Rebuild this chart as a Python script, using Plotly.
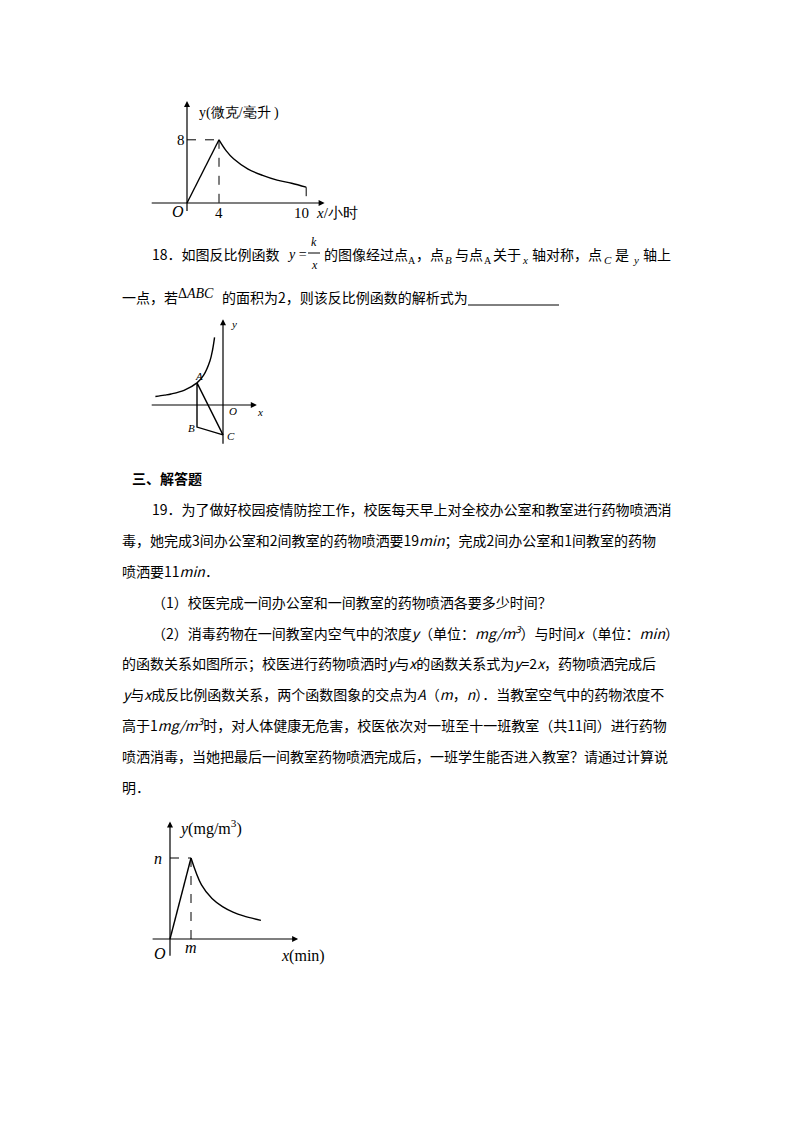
import plotly.graph_objects as go

W, H = 800, 1132
OFF = 8  # page margin of the html body
FONT = "Noto Sans CJK SC, Noto Sans, sans-serif"
SERIF = "Liberation Serif, DejaVu Serif, serif"

# graph 1: drug concentration (micrograms / ml) vs hours
g1_rise_x = [0, 4]
g1_rise_y = [0, 8]
g1_decay_x = [4, 4.5, 5, 6, 7, 8, 9, 10]
g1_decay_y = [8, 6.6, 5.6, 4.3, 3.5, 2.9, 2.5, 2.0]
g1_xticks = [4, 10]

# graph 2: inverse function with points A, B, C
g2_curve_x = [-5.2, -4.5, -4, -3, -2, -1.5, -1, -0.8, -0.65]
g2_curve_y = [0.65, 0.76, 0.85, 1.13, 1.7, 2.27, 3.4, 4.25, 5.2]
g2_A = (-2, 1.7)
g2_B = (-2, -1.7)
g2_C = (0, -2.3)

# graph 3: y(mg/m3) vs x(min)
g3_rise_x = [0, 1]
g3_rise_y = [0, 4]
g3_decay_x = [1, 1.5, 2, 2.5, 3, 3.5, 4.33]
g3_decay_y = [4, 2.67, 2.0, 1.6, 1.33, 1.14, 0.92]


def px(x):
    return (x - OFF) / W


def py(y):
    return 1 - (y - OFF) / H


def g1_map(x):
    # the sketch is not to scale: 0..4 is short, 4..10 is stretched
    return x if x <= 4 else 4 + (x - 4) * (10.9 / 6)


fig = go.Figure()
ann = []
shapes = []


def setup_axis(n, box, origin, scale):
    x0, y0, x1, y1 = box
    ox, oy = origin
    sx, sy = scale
    xr = [(x0 - ox) / sx, (x1 - ox) / sx]
    yr = [(oy - y1) / sy, (oy - y0) / sy]
    suf = "" if n == 1 else str(n)
    fig.update_layout({
        "xaxis" + suf: dict(domain=[px(x0), px(x1)], range=xr, visible=False, anchor="y" + suf),
        "yaxis" + suf: dict(domain=[py(y1), py(y0)], range=yr, visible=False, anchor="x" + suf),
    })
    return "x" + suf, "y" + suf


def line(xa, ya, xs, ys, dash="solid", width=1.4, shape="spline"):
    fig.add_trace(go.Scatter(x=xs, y=ys, mode="lines", xaxis=xa, yaxis=ya,
                             line=dict(color="black", width=width, dash=dash, shape=shape),
                             showlegend=False, hoverinfo="skip"))


def arrow(xa, ya, x0, y0, x1, y1):
    ann.append(dict(x=x1, y=y1, ax=x0, ay=y0, xref=xa, yref=ya, axref=xa, ayref=ya,
                    showarrow=True, arrowhead=2, arrowsize=1, arrowwidth=1.2,
                    arrowcolor="black", text=""))


def text(x, y, s, size=14, font=FONT, anchor="left", color="black"):
    ann.append(dict(x=px(x), y=py(y), xref="paper", yref="paper", text=s,
                    showarrow=False, xanchor=anchor, yanchor="middle",
                    font=dict(size=size, family=font, color=color)))


def dtext(xa, ya, x, y, s, size=15, font=SERIF, anchor="center"):
    ann.append(dict(x=x, y=y, xref=xa, yref=ya, text=s, showarrow=False,
                    xanchor=anchor, yanchor="middle",
                    font=dict(size=size, family=font, color="black")))


# ---- graph 1
xa, ya = setup_axis(1, (140, 90, 380, 225), (187, 203), (8, 7.9))
arrow(xa, ya, -4.6, 0, 17.2, 0)
arrow(xa, ya, 0, -1.2, 0, 12.9)
line(xa, ya, [g1_map(v) for v in g1_rise_x], g1_rise_y, shape="linear")
line(xa, ya, [g1_map(v) for v in g1_decay_x], g1_decay_y)
line(xa, ya, [0, g1_map(4)], [8, 8], dash="dash", width=1)
line(xa, ya, [g1_map(4), g1_map(4)], [8, 0], dash="dash", width=1)
line(xa, ya, [g1_map(10), g1_map(10)], [g1_decay_y[-1], 0], dash="dash", width=1)
text(197, 113, "y(微克/毫升 )", size=14, font=SERIF)
text(175, 140, "8", size=15, font=SERIF)
text(170, 212, "<i>O</i>", size=16, font=SERIF)
for t in g1_xticks:
    dtext(xa, ya, g1_map(t) - (0.6 if t == 10 else 0), -1.3, str(t))
text(314, 213, "<i>x</i>/小时", size=15, font=SERIF)

# ---- graph 2
xa, ya = setup_axis(2, (140, 315, 275, 450), (223, 405), (13, 13))
arrow(xa, ya, -5.6, 0, 2.6, 0)
arrow(xa, ya, 0, -3.1, 0, 6.6)
line(xa, ya, g2_curve_x, g2_curve_y)
line(xa, ya, [g2_A[0], g2_B[0], g2_C[0], g2_A[0]], [g2_A[1], g2_B[1], g2_C[1], g2_A[1]],
     shape="linear")
text(229, 324, "<i>y</i>", size=11, font=SERIF)
text(193, 376, "<i>A</i>", size=11, font=SERIF)
text(227, 411, "<i>O</i>", size=11, font=SERIF)
text(255, 412, "<i>x</i>", size=11, font=SERIF)
text(186, 428, "<i>B</i>", size=11, font=SERIF)
text(225, 436, "<i>C</i>", size=11, font=SERIF)

# ---- graph 3
xa, ya = setup_axis(3, (145, 815, 310, 960), (170, 939), (21, 20.25))
arrow(xa, ya, -0.9, 0, 6.1, 0)
arrow(xa, ya, 0, -0.9, 0, 5.8)
line(xa, ya, g3_rise_x, g3_rise_y, shape="linear")
line(xa, ya, g3_decay_x, g3_decay_y)
line(xa, ya, [0, 1], [4, 4], dash="dash", width=1)
line(xa, ya, [1, 1], [4, 0], dash="dash", width=1)
text(177, 827, "<i>y</i>(mg/m<sup>3</sup>)", size=16, font=SERIF)
text(158, 858, "<i>n</i>", size=16, font=SERIF, anchor="center")
text(160, 953, "<i>O</i>", size=16, font=SERIF, anchor="center")
text(191, 947, "<i>m</i>", size=16, font=SERIF, anchor="center")
text(279, 956, "<i>x</i>(min)", size=16, font=SERIF)

# ---- body text
text(150, 254, "18．如图反比例函数", size=14)
text(285, 254, "<i>y</i> =", size=14, font=SERIF)
text(314, 242, "<i>k</i>", size=12, font=SERIF, anchor="center")
text(314, 265, "<i>x</i>", size=12, font=SERIF, anchor="center")
shapes.append(dict(type="line", xref="paper", yref="paper", x0=px(308), x1=px(320),
                   y0=py(253), y1=py(253), line=dict(color="black", width=1)))
text(322, 254, "的图像经过点", size=14)
text(406, 260, "A", size=10, font=SERIF)
text(414, 254, "，点", size=14)
text(443, 260, "<i>B</i>", size=11, font=SERIF)
text(453, 254, "与点", size=14)
text(482, 260, "A", size=10, font=SERIF)
text(491, 254, "关于", size=14)
text(520, 260, "<i>x</i>", size=11, font=SERIF)
text(530, 254, "轴对称，点", size=14)
text(602, 260, "<i>C</i>", size=11, font=SERIF)
text(613, 254, "是", size=14)
text(631, 260, "<i>y</i>", size=11, font=SERIF)
text(641, 254, "轴上", size=14)
text(120, 297, "一点，若", size=14)
text(176, 293, "Δ<i>ABC</i>", size=14, font=SERIF)
text(220, 297, "的面积为2，则该反比例函数的解析式为", size=14)
shapes.append(dict(type="line", xref="paper", yref="paper", x0=px(468), x1=px(559),
                   y0=py(305), y1=py(305), line=dict(color="black", width=1)))

text(130, 478, "<b>三、解答题</b>", size=14)
lines = [
    (150, 509, "19．为了做好校园疫情防控工作，校医每天早上对全校办公室和教室进行药物喷洒消"),
    (120, 540, "毒，她完成3间办公室和2间教室的药物喷洒要19<i>min</i>；完成2间办公室和1间教室的药物"),
    (120, 571, "喷洒要11<i>min</i>．"),
    (150, 602, "（1）校医完成一间办公室和一间教室的药物喷洒各要多少时间？"),
    (150, 632, "（2）消毒药物在一间教室内空气中的浓度<i>y</i>（单位：<i>mg/m<sup>3</sup></i>）与时间<i>x</i>（单位：<i>min</i>）"),
    (120, 663, "的函数关系如图所示；校医进行药物喷洒时<i>y</i>与<i>x</i>的函数关系式为<i>y</i>=2<i>x</i>，药物喷洒完成后"),
    (120, 694, "<i>y</i>与<i>x</i>成反比例函数关系，两个函数图象的交点为<i>A</i>（<i>m</i>，<i>n</i>）．当教室空气中的药物浓度不"),
    (120, 725, "高于1<i>mg/m<sup>3</sup></i>时，对人体健康无危害，校医依次对一班至十一班教室（共11间）进行药物"),
    (120, 756, "喷洒消毒，当她把最后一间教室药物喷洒完成后，一班学生能否进入教室？请通过计算说"),
    (120, 787, "明．"),
]
for x, y, s in lines:
    text(x, y, s, size=14)

fig.update_layout(width=W, height=H, margin=dict(l=0, r=0, t=0, b=0),
                  paper_bgcolor="white", plot_bgcolor="white",
                  annotations=ann, shapes=shapes)
fig.write_html("out.html")
